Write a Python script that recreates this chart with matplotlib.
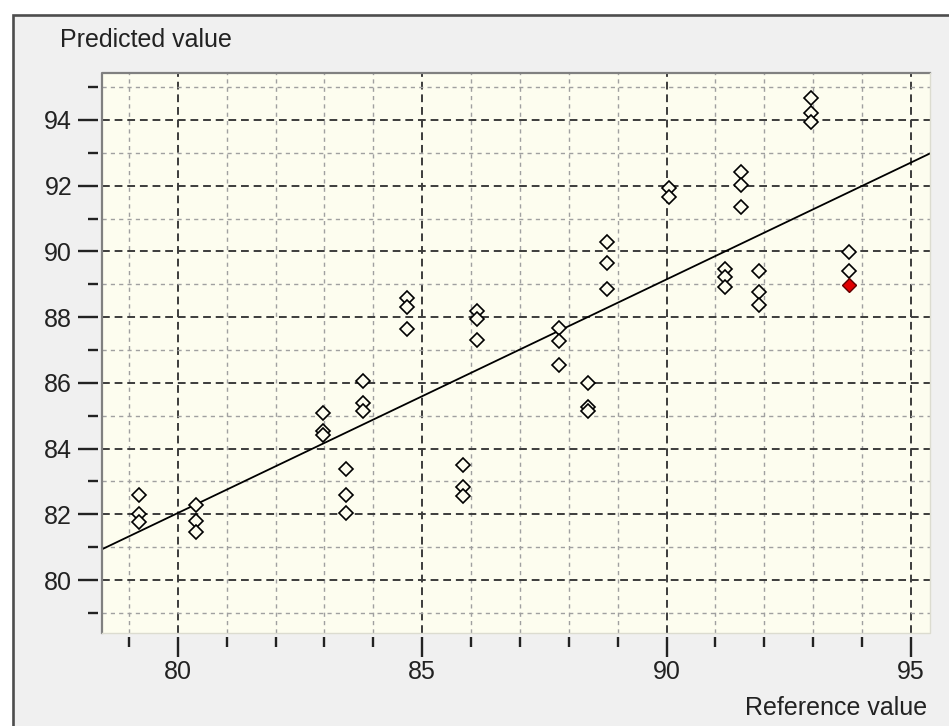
import matplotlib
matplotlib.use("Agg")
import matplotlib.pyplot as plt
from matplotlib.patches import Rectangle
from matplotlib.lines import Line2D
from matplotlib.ticker import MultipleLocator

plt.rcParams["font.family"] = ["Liberation Sans", "DejaVu Sans"]

# reference values (x) and predicted values (y)
ref_x = [79.2, 79.2, 79.2,
         80.38, 80.38, 80.38,
         82.97, 82.97, 82.97,
         83.45, 83.45, 83.45,
         83.79, 83.79, 83.79,
         84.68, 84.68, 84.68,
         85.83, 85.83, 85.83,
         86.13, 86.13, 86.13,
         87.79, 87.79, 87.79,
         88.40, 88.40, 88.40,
         88.78, 88.78, 88.78,
         90.05, 90.05,
         91.20, 91.20, 91.20,
         91.53, 91.53, 91.53,
         91.89, 91.89, 91.89,
         92.96, 92.96, 92.96,
         93.73, 93.73]
pred_y = [82.58, 82.0, 81.78,
          82.28, 81.8, 81.47,
          85.07, 84.55, 84.42,
          83.38, 82.58, 82.03,
          86.06, 85.40, 85.13,
          88.57, 88.30, 87.63,
          83.50, 82.84, 82.56,
          88.20, 87.93, 87.32,
          87.66, 87.29, 86.54,
          85.99, 85.26, 85.14,
          90.30, 89.64, 88.86,
          91.92, 91.67,
          89.48, 89.23, 88.93,
          92.41, 92.02, 91.36,
          89.41, 88.76, 88.37,
          94.66, 94.22, 93.95,
          89.97, 89.41]

# the highlighted (red) sample
sel_x = [93.73]
sel_y = [88.98]

# fitted line, predicted = slope * reference + intercept
slope = 0.711
intercept = 25.16

xlim = (78.45, 95.39)
ylim = (78.39, 95.43)

W, H = 949, 726
fig = plt.figure(figsize=(W / 100, H / 100), dpi=100)
fig.patch.set_facecolor("white")

# window frame
fig.patches.append(Rectangle((13 / W, -0.05), 1.1, 1 - 15 / H + 0.05,
                             transform=fig.transFigure, facecolor="#f0f0f0",
                             edgecolor="#4d4d4d", linewidth=1.9, zorder=0))

ax = fig.add_axes([102 / W, 1 - 633 / H, (930 - 102) / W, (633 - 73) / H])
ax.set_zorder(2)
ax.set_facecolor("#fdfdef")
ax.set_xlim(*xlim)
ax.set_ylim(*ylim)

ax.xaxis.set_major_locator(MultipleLocator(5))
ax.xaxis.set_minor_locator(MultipleLocator(1))
ax.yaxis.set_major_locator(MultipleLocator(2))
ax.yaxis.set_minor_locator(MultipleLocator(1))

ax.grid(which="major", color="#3c3c3c", linestyle=(0, (4, 2.5)), linewidth=1.4, zorder=1)
ax.grid(which="minor", color="#a0a0a0", linestyle=(0, (3, 3)), linewidth=1.0, zorder=1)
ax.set_axisbelow(True)

# ticks sit a little away from the plot edge
for s in ax.spines.values():
    s.set_visible(False)
ax.spines["left"].set_position(("outward", 3))
ax.spines["bottom"].set_position(("outward", 3))
ax.add_line(Line2D([0, 0, 1], [0, 1, 1], transform=ax.transAxes, color="#808080",
                   linewidth=1.6, clip_on=False, zorder=5))
ax.add_line(Line2D([0, 1, 1], [0, 0, 1], transform=ax.transAxes, color="#dcdcd0",
                   linewidth=1.0, clip_on=False, zorder=5))

ax.tick_params(which="major", direction="out", length=14.5, width=1.7, color="#222222",
               labelsize=18, labelcolor="#222222")
ax.tick_params(which="minor", direction="out", length=7, width=1.7, color="#222222")
ax.tick_params(axis="y", which="major", pad=4)
ax.tick_params(axis="x", which="major", pad=2)
ax.tick_params(top=False, right=False, which="both")

xs = [xlim[0], xlim[1]]
ax.plot(xs, [slope * v + intercept for v in xs], color="black", linewidth=1.3, zorder=3)

ax.plot(ref_x, pred_y, linestyle="none", marker="D", markersize=7.2,
        markerfacecolor="#fdfdef", markeredgecolor="black", markeredgewidth=1.2, zorder=4)
ax.plot(sel_x, sel_y, linestyle="none", marker="D", markersize=7.2,
        markerfacecolor="#e00000", markeredgecolor="#600000", markeredgewidth=1.0, zorder=4)

fig.text(60 / W, 1 - 47 / H, "Predicted value", fontsize=18, color="#222222",
         ha="left", va="baseline")
fig.text(927 / W, 1 - 715 / H, "Reference value", fontsize=18, color="#222222",
         ha="right", va="baseline")

fig.savefig("out.png", dpi=100, facecolor=fig.get_facecolor())
